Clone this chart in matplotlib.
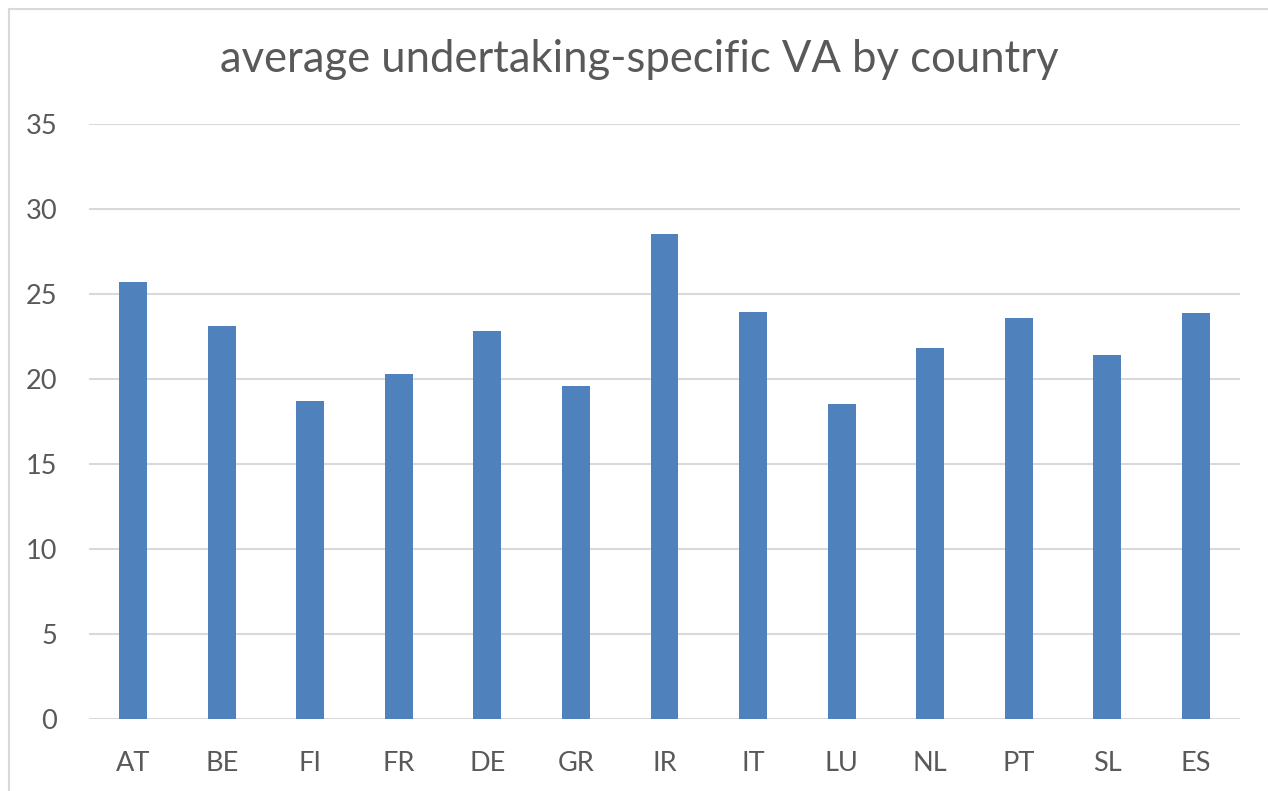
import matplotlib
matplotlib.use("Agg")
import matplotlib.pyplot as plt
from matplotlib.lines import Line2D

countries = ["AT", "BE", "FI", "FR", "DE", "GR", "IR", "IT", "LU", "NL", "PT", "SL", "ES"]
values = [25.7, 23.1, 18.7, 20.3, 22.85, 19.6, 28.55, 23.95, 18.55, 21.8, 23.6, 21.4, 23.9]
yticks = [0, 5, 10, 15, 20, 25, 30, 35]
title = "average undertaking-specific VA by country"

plt.rcParams["font.family"] = ["Lato", "DejaVu Sans"]
text_color = "#595959"
grid_color = "#D9D9D9"

fig = plt.figure(figsize=(12.68, 7.91), dpi=100)
W, H = 1268, 791
ax = fig.add_axes([89 / W, 1 - 719 / H, (1240 - 89) / W, (719 - 124) / H])

x = list(range(len(countries)))
ax.bar(x, values, width=0.315, color="#4F81BD", zorder=3)
ax.set_xlim(-0.5, len(countries) - 0.5)
ax.set_ylim(0, 35)
ax.set_yticks(yticks)
ax.set_yticklabels([str(t) for t in yticks])
ax.set_xticks(x)
ax.set_xticklabels(countries)
ax.tick_params(axis="both", length=0, labelsize=19.5, colors=text_color)
ax.tick_params(axis="y", pad=23)
ax.tick_params(axis="x", pad=23)
for s in ax.spines.values():
    s.set_visible(False)
ax.yaxis.grid(True, color=grid_color, linewidth=1.5, zorder=0)
ax.set_axisbelow(True)

fig.text(639 / W, 1 - 60 / H, title, ha="center", va="center", fontsize=31.4, color=text_color)

# chart border (left and top)
fig.add_artist(Line2D([9 / W, 9 / W], [0, 1 - 9 / H], color=grid_color, linewidth=1.5, transform=fig.transFigure))
fig.add_artist(Line2D([9 / W, 1], [1 - 9 / H, 1 - 9 / H], color=grid_color, linewidth=1.5, transform=fig.transFigure))

fig.savefig("out.png", dpi=100, facecolor="white")
